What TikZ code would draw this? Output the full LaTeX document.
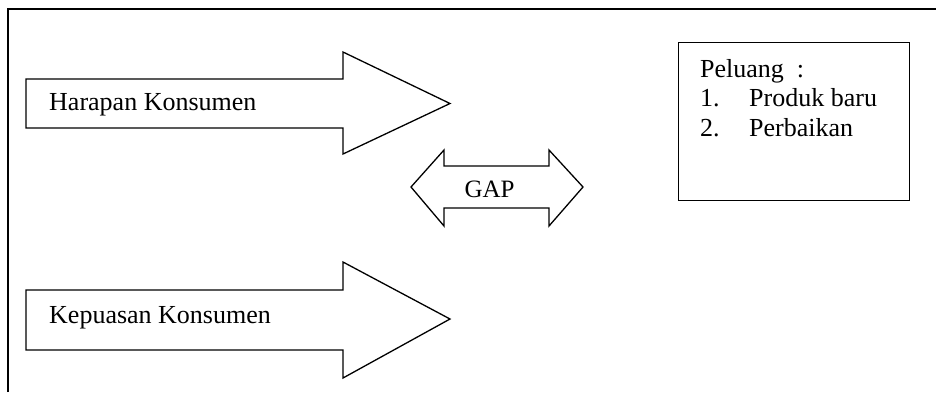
\documentclass[tikz,border=0pt]{standalone}
\usepackage{fontspec}
\setmainfont{Liberation Serif}
\begin{document}
\begin{tikzpicture}[x=1pt,y=-1pt,
  outline/.style={draw=black,line width=1.3pt,line join=miter,fill=white},
  frameline/.style={draw=black,line width=1.5pt},
  label/.style={inner sep=0pt,anchor=base west,font=\fontsize{26}{30}\selectfont},
  midlabel/.style={inner sep=0pt,anchor=base,font=\fontsize{25}{30}\selectfont}]
  \useasboundingbox (0,0) rectangle (936,392);
  \fill[white] (0,0) rectangle (936,392);

  % open frame: left and top edges
  \draw[frameline] (8,392) -- (8,9) -- (936,9);

  % upper block arrow
  \draw[outline] (26,79) -- (343,79) -- (343,52) -- (450,103.5) -- (343,154)
    -- (343,128) -- (26,128) -- cycle;
  \node[label] (harapan) at (49,110) {Harapan Konsumen};

  % lower block arrow
  \draw[outline] (26,290) -- (343,290) -- (343,262) -- (450,319) -- (343,378)
    -- (343,350) -- (26,350) -- cycle;
  \node[label] (kepuasan) at (49,323) {Kepuasan Konsumen};

  % double-headed arrow in the middle
  \draw[outline] (411,187) -- (444,150) -- (444,166) -- (549,166) -- (549,150)
    -- (583,187) -- (549,226) -- (549,208) -- (444,208) -- (444,226) -- cycle;
  \node[midlabel] (gap) at (489.5,197) {GAP};

  % opportunities box
  \node[draw=black,line width=1.3pt,minimum width=231pt,minimum height=158pt,
        inner sep=0pt,anchor=north west] (peluang) at (678,42) {};
  \node[label] (judul) at (700,77) {Peluang\ \ :};
  \node[label] (n1) at (700,106) {1.};
  \node[label] (i1) at (749,106) {Produk baru};
  \node[label] (n2) at (700,136) {2.};
  \node[label] (i2) at (749,136) {Perbaikan};
\end{tikzpicture}
\end{document}
